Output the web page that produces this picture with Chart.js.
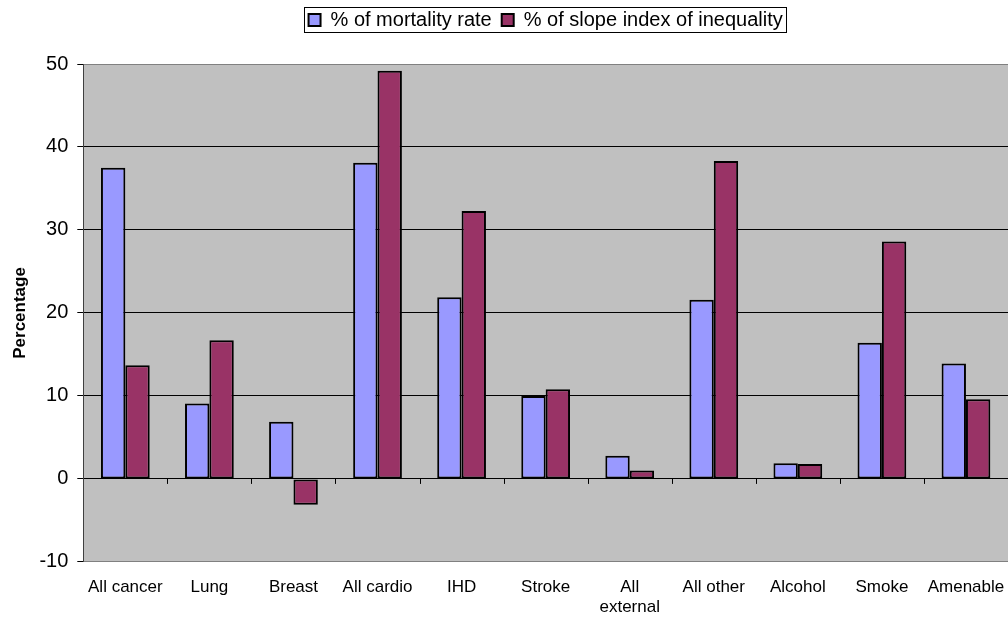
<!DOCTYPE html>
<html>
<head>
<meta charset="utf-8">
<script src="https://cdn.jsdelivr.net/npm/chart.js@4"></script>
<style>
  html, body { margin: 0; padding: 0; background: #fff; }
  #wrap { width: 1008px; height: 619px; }
</style>
</head>
<body>
<div id="wrap"><canvas id="chart"></canvas></div>
<script>
const categories = ['All cancer', 'Lung', 'Breast', 'All cardio', 'IHD', 'Stroke',
    ['All', 'external'], 'All other', 'Alcohol', 'Smoke', 'Amenable']
const mortalityRate = [37.5, 9.1, 6.9, 38.1, 21.9, 10.0, 2.8, 21.6, 1.9, 16.4, 13.9]
const slopeIndex = [13.7, 16.7, -3.1, 49.2, 32.3, 10.8, 1.0, 38.3, 1.8, 28.6, 9.6]
const yTicks = [-10, 0, 10, 20, 30, 40, 50]

Chart.defaults.font.family = '"Liberation Sans", Arial, sans-serif'
Chart.defaults.color = '#000'

const plotBackground = {
    id: 'plotBackground',
    beforeInit(chart) {
        // extra space below the legend
        const fit = chart.legend.fit
        chart.legend.fit = function () {
            fit.call(this)
            this.height += 24
        }
    },
    afterUpdate(chart) {
        // centre the legend over the plot area, not the whole canvas
        const lg = chart.legend
        const a = chart.chartArea
        const shift = (a.left + a.right) / 2 - (lg.left + lg.right) / 2
        lg.left += shift
        lg.right += shift
        lg.legendHitBoxes.forEach(b => { b.left += shift })
    },
    beforeDraw(chart) {
        const { ctx, chartArea: a } = chart
        ctx.save()
        ctx.fillStyle = '#c0c0c0'
        ctx.fillRect(a.left, a.top, a.right - a.left, a.bottom - a.top)
        ctx.restore()
    }
}

// little tick marks under the zero line between categories, and the legend frame
const extras = {
    id: 'extras',
    afterDatasetsDraw(chart) {
        const { ctx } = chart
        const xs = chart.scales.x
        const y0 = chart.scales.y.getPixelForValue(0)
        const w = (xs.right - xs.left) / categories.length
        ctx.save()
        ctx.strokeStyle = '#000'
        ctx.lineWidth = 1
        for (let k = 1; k < categories.length; k++) {
            const x = Math.round(xs.left + k * w) + 0.5
            ctx.beginPath()
            ctx.moveTo(x, y0)
            ctx.lineTo(x, y0 + 5)
            ctx.stroke()
        }
        ctx.restore()
    },
    afterDraw(chart) {
        const boxes = chart.legend.legendHitBoxes
        if (!boxes || !boxes.length) return
        const left = Math.min(...boxes.map(b => b.left)) - 5
        const right = Math.max(...boxes.map(b => b.left + b.width)) + 3
        const top = Math.min(...boxes.map(b => b.top)) - 3
        const bottom = Math.max(...boxes.map(b => b.top + b.height)) + 2
        const { ctx } = chart
        ctx.save()
        ctx.strokeStyle = '#000'
        ctx.lineWidth = 1
        ctx.strokeRect(Math.round(left) + 0.5, Math.round(top) + 0.5, Math.round(right - left), Math.round(bottom - top))
        ctx.restore()
    }
}

new Chart(document.getElementById('chart'), {
    type: 'bar',
    data: {
        labels: categories,
        datasets: [
            {
                label: '% of mortality rate',
                data: mortalityRate,
                backgroundColor: '#9999ff',
                borderColor: '#000',
                borderWidth: 2,
                borderSkipped: false
            },
            {
                label: '% of slope index of inequality',
                data: slopeIndex,
                backgroundColor: '#993366',
                borderColor: '#000',
                borderWidth: 2,
                borderSkipped: false
            }
        ]
    },
    options: {
        responsive: true,
        maintainAspectRatio: false,
        animation: false,
        datasets: {
            bar: { categoryPercentage: 0.58, barPercentage: 1 }
        },
        layout: { padding: { left: 10, right: 0, top: 0, bottom: -14 } },
        plugins: {
            legend: {
                position: 'top',
                labels: {
                    boxWidth: 12,
                    boxHeight: 12,
                    padding: 10,
                    font: { size: 20 },
                    color: '#000',
                    useBorderRadius: false
                }
            },
            tooltip: { enabled: false }
        },
        scales: {
            x: {
                grid: { display: false, drawTicks: false },
                border: { display: false },
                afterFit(scale) {
                    scale.paddingLeft = 0
                    scale.paddingRight = 0
                },
                ticks: {
                    padding: 16,
                    font: { size: 17, lineHeight: 1.15 },
                    color: '#000',
                    maxRotation: 0,
                    autoSkip: false
                }
            },
            y: {
                min: -10,
                max: 50,
                afterBuildTicks(scale) {
                    scale.ticks = yTicks.map(v => ({ value: v }))
                },
                title: {
                    display: true,
                    text: 'Percentage',
                    font: { size: 17, weight: 'bold' },
                    color: '#000',
                    padding: { top: 0, bottom: 0 }
                },
                border: { display: true, color: '#404040', width: 1 },
                grid: {
                    color: ctx => (ctx.tick && (ctx.tick.value === 50 || ctx.tick.value === -10)) ? '#808080' : '#000',
                    lineWidth: 1,
                    tickLength: 6,
                    tickColor: '#000'
                },
                ticks: {
                    font: { size: 20 },
                    color: '#000',
                    padding: 9
                }
            }
        }
    },
    plugins: [plotBackground, extras]
})
</script>
</body>
</html>
